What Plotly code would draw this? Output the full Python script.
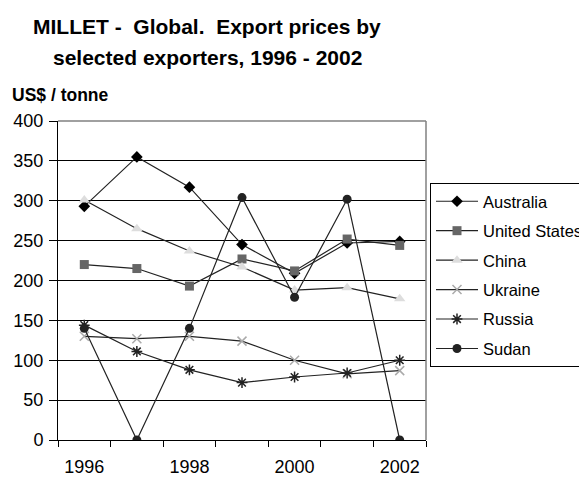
import plotly.graph_objects as go

years = [1996, 1997, 1998, 1999, 2000, 2001, 2002]
australia = [293, 355, 317, 245, 209, 247, 249]
united_states = [220, 215, 193, 227, 212, 252, 244]
china = [301, 265, 237, 217, 188, 191, 177]
ukraine = [130, 127, 130, 124, 100, 83, 87]
russia = [144, 111, 88, 72, 79, 84, 100]
sudan = [140, 0, 140, 304, 179, 302, 0]

x_tick_vals = [1996, 1998, 2000, 2002]
x_tick_text = ["1996", "1998", "2000", "2002"]
y_tick_vals = [0, 50, 100, 150, 200, 250, 300, 350, 400]

series = [
    ("Australia", australia, dict(symbol="diamond", size=9, color="#000000")),
    ("United States", united_states, dict(symbol="square", size=9, color="#666666")),
    ("China", china, dict(symbol="triangle-up", size=10, color="#dddddd")),
    ("Ukraine", ukraine, dict(symbol="x-thin-open", size=9, color="#aaaaaa",
                               line=dict(width=1.5, color="#aaaaaa"))),
    ("Russia", russia, dict(symbol="asterisk-open", size=9, color="#222222",
                             line=dict(width=1.5, color="#222222"))),
    ("Sudan", sudan, dict(symbol="circle", size=9, color="#222222")),
]

W, H = 579, 477
L, R, T, B = 58, 153, 121, 37
pw, ph = W - L - R, H - T - B


def px_to_paper(px, py):
    return (px - L) / pw, 1 - (py - T) / ph


fig = go.Figure()
for i, (name, vals, marker) in enumerate(series):
    fig.add_trace(go.Scatter(
        x=years, y=vals, name=name, mode="lines+markers",
        line=dict(color="#222222", width=1.2),
        marker=marker, legendgroup=f"g{i}",
    ))

t1x, t1y = px_to_paper(207, 26)
t2x, t2y = px_to_paper(207, 57)
ux, uy = px_to_paper(10, 95)

fig.update_layout(
    width=W, height=H,
    margin=dict(l=L, r=R, t=T, b=B, autoexpand=False),
    paper_bgcolor="white", plot_bgcolor="white",
    font=dict(family="Liberation Sans, Arial, sans-serif", color="#000000", size=16),
    showlegend=True,
    legend=dict(
        x=430 / W, xref="container", xanchor="left",
        y=1 - 183 / H, yref="container", yanchor="top",
        bordercolor="#000000", borderwidth=1, bgcolor="white",
        font=dict(size=16.5), tracegroupgap=5, traceorder="grouped",
        itemwidth=42,
    ),
    xaxis=dict(
        range=[1995.5, 2002.5], tickmode="array",
        tickvals=x_tick_vals, ticktext=x_tick_text, ticks="",
        ticklabelstandoff=10,
        showgrid=False, showline=True, linecolor="#000000", linewidth=1,
        zeroline=False, tickfont=dict(size=18),
        minor=dict(tickmode="linear", tick0=1995.5, dtick=1, ticks="outside",
                   ticklen=6, tickcolor="#000000", showgrid=False),
    ),
    yaxis=dict(
        range=[0, 400], tickmode="array", tickvals=y_tick_vals,
        showgrid=True, gridcolor="#000000", gridwidth=1,
        showline=True, linecolor="#000000", linewidth=1,
        ticks="outside", ticklen=8, tickcolor="#000000", ticklabelstandoff=2,
        zeroline=False, tickfont=dict(size=18),
    ),
    shapes=[
        dict(type="line", xref="paper", yref="paper", x0=0, x1=1, y0=1, y1=1,
             line=dict(color="#808080", width=1.5), layer="above"),
        dict(type="line", xref="paper", yref="paper", x0=1, x1=1, y0=0, y1=1,
             line=dict(color="#808080", width=1.5), layer="above"),
    ],
    annotations=[
        dict(text="<b>MILLET -  Global.  Export prices by</b>", xref="paper", yref="paper",
             x=t1x, y=t1y, xanchor="center", yanchor="middle",
             showarrow=False, font=dict(size=21)),
        dict(text="<b>selected exporters, 1996 - 2002</b>", xref="paper", yref="paper",
             x=t2x, y=t2y, xanchor="center", yanchor="middle",
             showarrow=False, font=dict(size=21)),
        dict(text="<b>US$ / tonne</b>", xref="paper", yref="paper",
             x=ux, y=uy, xanchor="left", yanchor="middle",
             showarrow=False, font=dict(size=17.5)),
    ],
)

fig.write_html(
    "out.html",
    config={"displayModeBar": False},
    post_script="document.body.style.margin='0';document.body.style.overflow='hidden';",
)
